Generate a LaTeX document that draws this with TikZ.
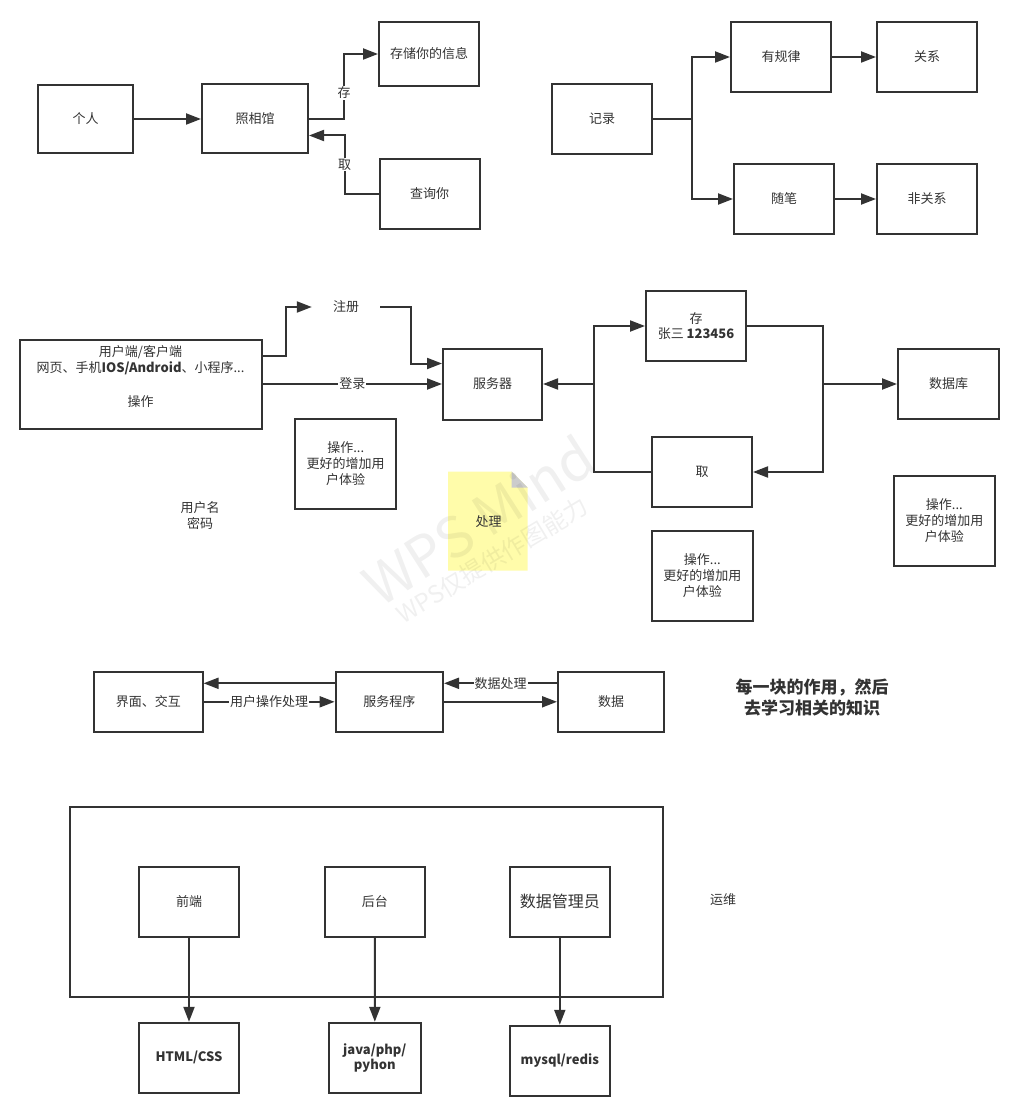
\documentclass[tikz,border=0pt]{standalone}
\usepackage{fontspec}
\setmainfont{Noto Sans CJK SC}
\usepackage{xcolor}
\usetikzlibrary{arrows.meta,positioning,calc}
\definecolor{ink}{HTML}{333333}
\definecolor{notey}{HTML}{FFFCAA}
\definecolor{fold}{HTML}{CCCCCC}

\begin{document}
\begin{tikzpicture}[
  x=1pt, y=-1pt,
  font=\fontsize{13}{16}\selectfont,
  box/.style={draw=ink, line width=2pt, align=center, text=ink,
              minimum width=100pt, minimum height=70pt, inner sep=2pt},
  arr/.style={-{Triangle[length=15pt,width=11pt]}, line width=2pt, draw=ink},
  lbl/.style={fill=white, inner sep=1pt, text=ink},
  txt/.style={align=center, text=ink}
]
\useasboundingbox (0,0) rectangle (1024,1107);

% photo studio
\node[box, minimum width=95pt, minimum height=68pt] (geren) at (85.5,119) {个人};
\node[box, minimum width=106pt, minimum height=69pt] (zhaoxiang) at (255,119) {照相馆};
\node[box, minimum height=64pt] (cunchu) at (429,54) {存储你的信息};
\node[box] (chaxun) at (429.5,194) {查询你};

\draw[arr] (geren) -- (zhaoxiang);
\draw[arr] (zhaoxiang.east) -- ++(35,0) |- node[lbl, pos=0.2] {存} (cunchu.west);
\draw[arr] (chaxun.west) -- ++(-34,0) |- node[lbl, pos=0.25] {取} ([yshift=-16.5pt]zhaoxiang.east);

% records
\node[box] (jilu) at (602,119) {记录};
\node[box] (guilv) at (781,57) {有规律};
\node[box, right=44pt of guilv] (guanxi) {关系};
\node[box] (suibi) at (784,199) {随笔};
\node[box] (feiguanxi) at (927,199) {非关系};

\draw[arr] (jilu.east) -- ++(39,0) |- (guilv.west);
\draw[arr] (jilu.east) -- ++(39,0) |- (suibi.west);
\draw[arr] (guilv) -- (guanxi);
\draw[arr] (suibi) -- (feiguanxi);

% client / server
\node[box, minimum width=242pt, minimum height=89pt, font=\fontsize{13}{16.6}\selectfont] (client) at (140.5,384)
  {用户端/客户端\\网页、手机\textbf{IOS/Android}、小程序...\\[16.6pt]操作\\ \mbox{}};
\node[txt, minimum width=68pt] (zhuce) at (346,307) {注册};
\node[box, minimum width=99pt, minimum height=71pt] (server) at (492.5,384) {服务器};
\node[box, font=\fontsize{13}{15}\selectfont] (cun) at (696,326) {存\\张三 \textbf{123456}};
\node[box] (qu) at (702,472) {取};
\node[box, minimum width=101pt] (db) at (948.5,384) {数据库};
\coordinate (jl) at (593.7,384);
\coordinate (jr) at (822.7,384);

\draw[arr] ([yshift=28pt]client.east) -- ++(23,0) |- (zhuce.west);
\draw[arr] (zhuce.east) -- ++(31,0) |- ([yshift=20.5pt]server.west);
\draw[arr] (client.east) -- node[lbl] {登录} (server.west);
\draw[arr] (jl) -- (server.east);
\draw[arr] (qu.west) -| (jl) |- (cun.west);
\draw[arr] (cun.east) -| (jr) |- (qu.east);
\draw[arr] (jr) -- (db.west);

\node[box, minimum width=101pt, minimum height=90pt] (op1) at (345.7,463.5) {操作...\\更好的增加用\\户体验};
\node[box, minimum width=101pt, minimum height=90pt] (op2) at (702.3,576) {操作...\\更好的增加用\\户体验};
\node[box, minimum width=101pt, minimum height=90pt] (op3) at (944.3,521) {操作...\\更好的增加用\\户体验};
\node[txt] (yhm) at (200,515.5) {用户名\\密码};

\fill[notey] (448,471.7) -- (511.7,471.7) -- (527.5,487.5) -- (527.5,570.7) -- (448,570.7) -- cycle;
\fill[fold] (511.7,471.7) -- (511.7,487.5) -- (527.5,487.5) -- cycle;
\node[txt] (chuli) at (488.5,522) {处理};

% three layers
\node[box, minimum width=108.5pt, minimum height=60.3pt] (ui) at (148.3,701.8) {界面、交互};
\node[box, minimum width=107.4pt, minimum height=60.3pt] (svc) at (389.3,701.8) {服务程序};
\node[box, minimum width=106pt, minimum height=60.3pt] (data) at (611,701.8) {数据};

\draw[arr] ([yshift=18.5pt]svc.west) -- ([yshift=18.5pt]ui.east);
\draw[arr] (ui) -- node[lbl] {用户操作处理} (svc);
\draw[arr] ([yshift=18.5pt]data.west) -- node[lbl] {数据处理} ([yshift=18.5pt]svc.east);
\draw[arr] (svc) -- (data);

\node[txt, font=\fontsize{17}{21}\selectfont\bfseries] (tip) at (812,697.5) {每一块的作用，然后\\去学习相关的知识};

% roles
\node[draw=ink, line width=2pt, minimum width=592.7pt, minimum height=190.3pt] (frame) at (366.4,901.9) {};
\node[box] (qd) at (189,901.8) {前端};
\node[box] (ht) at (374.9,901.8) {后台};
\node[box, font=\fontsize{16}{19}\selectfont] (dba) at (559.8,901.8) {数据管理员};
\node[box, font=\fontsize{13}{15}\selectfont\bfseries] (html) at (189,1057.8) {HTML/CSS};
\node[box, minimum width=92pt, font=\fontsize{13}{14.7}\selectfont\bfseries] (java) at (374.8,1057.8) {java/php/\\pyhon};
\node[box, font=\fontsize{13}{15}\selectfont\bfseries] (mysql) at (559.8,1060.8) {mysql/redis};
\node[txt] (yw) at (723,900) {运维};

\draw[arr] (qd) -- (html);
\draw[arr] (ht) -- (java);
\draw[arr] (dba) -- (mysql);

% watermark
\node[rotate=32.5, text=black, opacity=0.06, font=\fontsize{56}{56}\selectfont] (wmark) at (478,520) {WPS Mind};
\node[rotate=31, text=black, opacity=0.06, font=\fontsize{24}{24}\selectfont] (wmsub) at (492,560) {WPS仅提供作图能力};
\end{tikzpicture}
\end{document}
